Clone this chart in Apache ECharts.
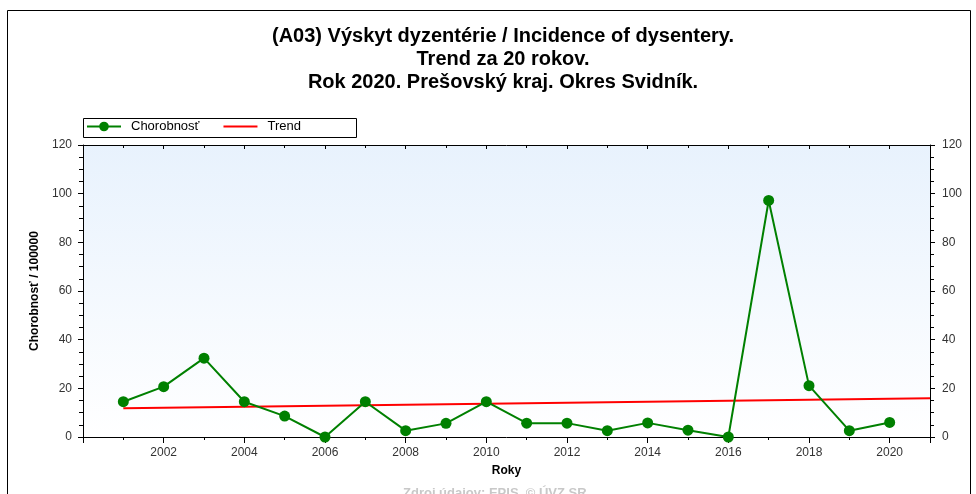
<!DOCTYPE html>
<html>
<head>
<meta charset="utf-8">
<script src="https://cdn.jsdelivr.net/npm/echarts@6/dist/echarts.min.js"></script>
<style>
  html, body { margin: 0; padding: 0; background: #fff; }
  #chart { width: 976px; height: 494px; }
</style>
</head>
<body>
<div id="chart"></div>
<script>
const years = [2001, 2002, 2003, 2004, 2005, 2006, 2007, 2008, 2009, 2010,
               2011, 2012, 2013, 2014, 2015, 2016, 2017, 2018, 2019, 2020]
const incidence = [14.5, 20.7, 32.4, 14.5, 8.6, 0, 14.5, 2.6, 5.6, 14.5,
                   5.7, 5.7, 2.6, 5.8, 2.8, 0, 97.2, 21.1, 2.6, 6.0]
// trend line, start and end
const trendYears = [2001, 2021]
const trendValues = [11.8, 15.9]

const font = 'Liberation Sans, Arial, sans-serif'

const chart = echarts.init(document.getElementById('chart'))

const yAxisBase = {
  type: 'value',
  min: 0,
  max: 120,
  interval: 20,
  splitLine: { show: false },
  axisLine: { show: true, lineStyle: { color: '#000', width: 1 } },
  axisTick: { show: true, length: 5, lineStyle: { color: '#000' } },
  minorTick: { show: true, splitNumber: 4, length: 4, lineStyle: { color: '#000' } },
  axisLabel: { color: '#333', fontFamily: font, fontSize: 12, margin: 11 }
}

const option = {
  animation: false,
  backgroundColor: '#fff',
  title: {
    text: '(A03) Výskyt dyzentérie / Incidence of dysentery.\nTrend za 20 rokov.\nRok 2020. Prešovský kraj. Okres Svidník.',
    left: 498,
    top: 20,
    textAlign: 'center',
    textStyle: {
      fontFamily: font,
      fontSize: 20,
      fontWeight: 'bold',
      color: '#000',
      lineHeight: 23
    }
  },
  legend: {
    left: 86,
    top: 120,
    itemWidth: 34,
    itemHeight: 12,
    itemGap: 24,
    padding: 0,
    textStyle: { fontFamily: font, fontSize: 13, color: '#000', padding: [0, 0, 0, 5] },
    data: [
      { name: 'Chorobnosť' },
      { name: 'Trend', icon: 'path://M0,5 L34,5 L34,7 L0,7 Z', itemStyle: { color: '#ff0000' } }
    ]
  },
  graphic: [
    {
      type: 'rect',
      shape: { x: 7.5, y: 10.5, width: 963, height: 500 },
      style: { fill: null, stroke: '#000', lineWidth: 1 },
      silent: true,
      z: -1
    },
    {
      type: 'rect',
      shape: { x: 83.5, y: 118.5, width: 273, height: 19 },
      style: { fill: null, stroke: '#000', lineWidth: 1 },
      silent: true
    },
    {
      type: 'text',
      left: 403,
      top: 487,
      style: {
        text: 'Zdroj údajov: EPIS, © ÚVZ SR',
        fontFamily: font,
        fontSize: 13,
        fontWeight: 'bold',
        fill: '#c8c8c8'
      },
      silent: true
    }
  ],
  grid: {
    left: 83,
    right: 46,
    top: 145,
    bottom: 57,
    show: true,
    borderWidth: 0,
    backgroundColor: new echarts.graphic.LinearGradient(0, 0, 0, 1, [
      { offset: 0, color: '#e8f2fd' },
      { offset: 1, color: '#ffffff' }
    ])
  },
  xAxis: [
    {
      type: 'value',
      min: 2000,
      max: 2021,
      interval: 2,
      name: 'Roky',
      nameLocation: 'middle',
      nameGap: 28,
      nameTextStyle: { fontFamily: font, fontSize: 12, fontWeight: 'bold', color: '#000' },
      splitLine: { show: false },
      axisLine: { onZero: false, lineStyle: { color: '#000', width: 1 } },
      axisTick: { length: 6, lineStyle: { color: '#000' } },
      minorTick: { show: true, splitNumber: 2, length: 3, lineStyle: { color: '#000' } },
      axisLabel: {
        color: '#333',
        fontFamily: font,
        fontSize: 12,
        margin: 10,
        showMaxLabel: false,
        formatter: v => (v === 2000 || v > 2020) ? '' : String(v)
      }
    },
    {
      type: 'value',
      position: 'top',
      min: 2000,
      max: 2021,
      interval: 2,
      splitLine: { show: false },
      axisLine: { onZero: false, lineStyle: { color: '#000', width: 1 } },
      axisTick: { inside: true, length: 4, lineStyle: { color: '#000' } },
      minorTick: { show: true, splitNumber: 2, length: 3, lineStyle: { color: '#000' } },
      axisLabel: { show: false }
    }
  ],
  yAxis: [
    Object.assign({}, yAxisBase, {
      position: 'left',
      name: 'Chorobnosť / 100000',
      nameLocation: 'middle',
      nameGap: 38,
      nameTextStyle: { fontFamily: font, fontSize: 12, fontWeight: 'bold', color: '#000' }
    }),
    Object.assign({}, yAxisBase, {
      position: 'right',
      axisLabel: { color: '#333', fontFamily: font, fontSize: 12, margin: 12 }
    })
  ],
  series: [
    {
      name: 'Chorobnosť',
      type: 'line',
      data: years.map((y, i) => [y, incidence[i]]),
      symbol: 'circle',
      symbolSize: 11,
      itemStyle: { color: '#008000' },
      lineStyle: { color: '#008000', width: 2 },
      z: 3
    },
    {
      name: 'Trend',
      type: 'line',
      data: trendYears.map((y, i) => [y, trendValues[i]]),
      showSymbol: false,
      symbol: 'none',
      itemStyle: { color: '#ff0000' },
      lineStyle: { color: '#ff0000', width: 2 },
      z: 2
    }
  ]
}

chart.setOption(option)
</script>
</body>
</html>
